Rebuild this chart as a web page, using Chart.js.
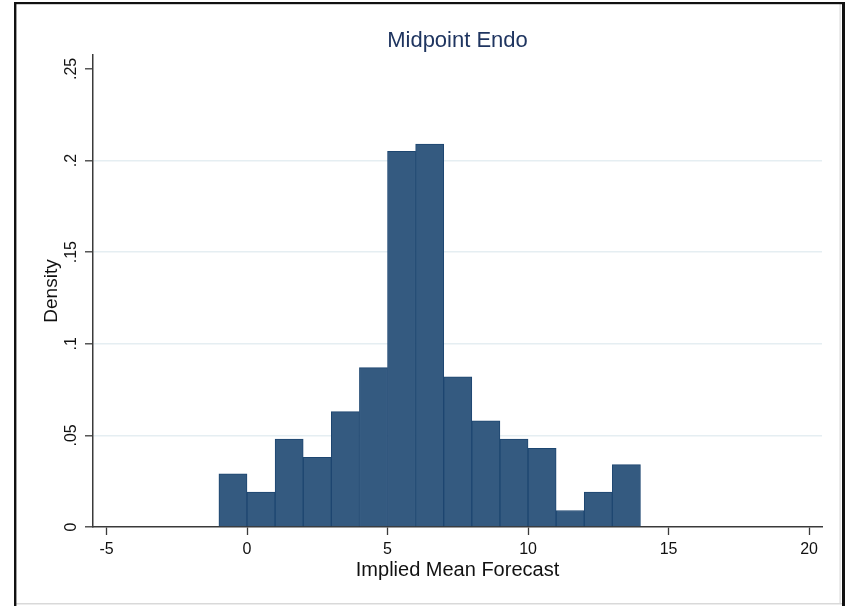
<!DOCTYPE html>
<html>
<head>
<meta charset="utf-8">
<script src="https://cdn.jsdelivr.net/npm/chart.js@4/dist/chart.umd.min.js"></script>
<style>
  html, body { margin: 0; padding: 0; background: #fff; }
  canvas { display: block; }
</style>
</head>
<body>
<canvas id="c" width="847" height="606"></canvas>
<script>
// Histogram bins (edges) and density per bin
const binEdges = [-1, 0, 1, 2, 3, 4, 5, 6, 7, 8, 9, 10, 11, 12, 13, 14];
const density = [0.029, 0.019, 0.048, 0.038, 0.063, 0.087, 0.205, 0.209,
                 0.082, 0.058, 0.048, 0.043, 0.009, 0.019, 0.034];

// Axis ticks and labels
const xTicks = [-5, 0, 5, 10, 15, 20];
const yTicks = [0, 0.05, 0.1, 0.15, 0.2, 0.25];
const yTickLabels = ['0', '.05', '.1', '.15', '.2', '.25'];

const chartTitle = 'Midpoint Endo';
const xTitle = 'Implied Mean Forecast';
const yTitle = 'Density';

const FONT = '"Liberation Sans", Arial, Helvetica, sans-serif';
const AXIS = '#3a3a3a';

const bars = density.map((d, i) => ({ x: (binEdges[i] + binEdges[i + 1]) / 2, y: d }));

// Page frame drawn behind the chart
const framePlugin = {
  id: 'frame',
  beforeDraw(chart) {
    const ctx = chart.ctx;
    ctx.save();
    ctx.fillStyle = '#ffffff';
    ctx.fillRect(0, 0, chart.width, chart.height);
    ctx.fillStyle = '#d9d9d9';
    ctx.fillRect(16, 603, 826, 1.5);
    ctx.fillRect(839.5, 4, 1.2, 600);
    ctx.fillStyle = '#111111';
    ctx.fillRect(14, 2, 831, 2.2);
    ctx.fillRect(14, 2, 2.4, 604);
    ctx.fillRect(842, 2, 3, 604);
    ctx.restore();
  }
};

// Chart title centred over the plot region
const titlePlugin = {
  id: 'plotTitle',
  afterDraw(chart) {
    const { ctx, chartArea } = chart;
    ctx.save();
    ctx.font = '22px ' + FONT;
    ctx.fillStyle = '#1f3560';
    ctx.textAlign = 'center';
    ctx.textBaseline = 'middle';
    ctx.fillText(chartTitle, (chartArea.left + chartArea.right) / 2, 41);
    ctx.restore();
  }
};

new Chart(document.getElementById('c'), {
  type: 'bar',
  data: {
    datasets: [{
      data: bars,
      backgroundColor: '#345a80',
      borderColor: '#1d4670',
      borderWidth: 1,
      barPercentage: 1,
      categoryPercentage: 1
    }]
  },
  plugins: [framePlugin, titlePlugin],
  options: {
    responsive: false,
    devicePixelRatio: 1,
    animation: false,
    layout: { padding: { left: 20, right: 25, top: 55, bottom: 0 } },
    plugins: {
      legend: { display: false },
      tooltip: { enabled: false },
      title: { display: false }
    },
    scales: {
      x: {
        type: 'linear',
        offset: false,
        min: -5.48,
        max: 20.46,
        afterBuildTicks: (scale) => { scale.ticks = xTicks.map(v => ({ value: v })); },
        afterFit: (scale) => { scale.height = 79; },
        grid: {
          display: true,
          offset: false,
          drawOnChartArea: false,
          drawTicks: true,
          tickLength: 8,
          tickColor: AXIS,
          tickWidth: 1.3
        },
        border: { display: true, color: AXIS, width: 1.5 },
        ticks: {
          color: '#111',
          font: { family: FONT, size: 16 },
          padding: 5,
          maxRotation: 0,
          minRotation: 0
        },
        title: {
          display: true,
          text: xTitle,
          color: '#111',
          font: { family: FONT, size: 20 },
          padding: { top: 0, bottom: 24 }
        }
      },
      y: {
        type: 'linear',
        min: 0,
        max: 0.2576,
        afterBuildTicks: (scale) => { scale.ticks = yTicks.map(v => ({ value: v })); },
        afterFit: (scale) => { scale.width = 73; },
        grid: {
          display: true,
          offset: false,
          drawOnChartArea: true,
          drawTicks: true,
          tickLength: 8,
          color: (c) => (c.tick && (c.tick.value === 0 || c.tick.value === 0.25)) ? 'rgba(0,0,0,0)' : '#e5eef2',
          lineWidth: 1.6,
          tickColor: AXIS,
          tickWidth: 1.3
        },
        border: { display: true, color: AXIS, width: 1.5 },
        ticks: {
          color: '#111',
          font: { family: FONT, size: 16 },
          padding: 2,
          minRotation: 90,
          maxRotation: 90,
          crossAlign: 'center',
          callback: (value) => yTickLabels[yTicks.indexOf(value)]
        },
        title: {
          display: true,
          text: yTitle,
          color: '#111',
          font: { family: FONT, size: 19 },
          padding: { top: 20.6, bottom: 0 }
        }
      }
    }
  }
});
</script>
</body>
</html>
